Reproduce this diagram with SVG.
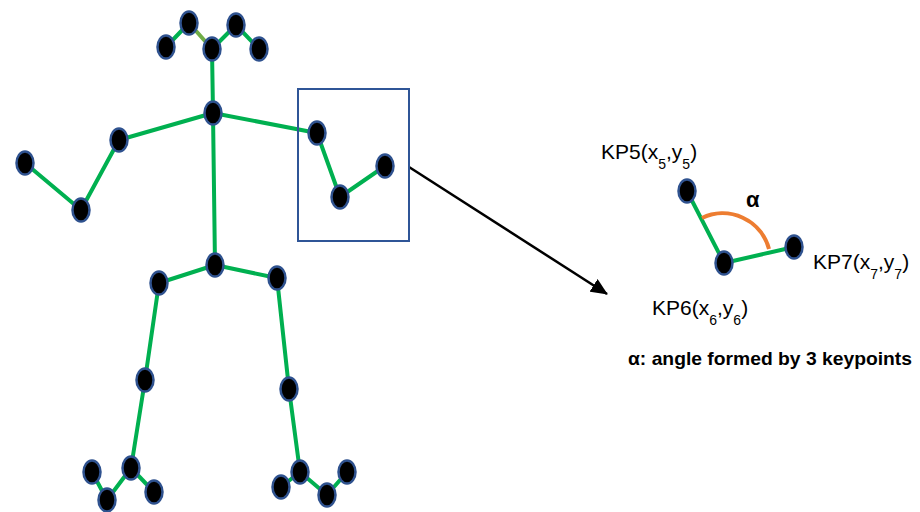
<svg xmlns="http://www.w3.org/2000/svg" width="920" height="512" viewBox="0 0 920 512">
<defs>
<style>
.kp{fill:#000;stroke:#2f528f;stroke-width:2.5}
.bone{stroke:#00b050;stroke-width:4;fill:none;stroke-linecap:round}
.t{font-family:"Liberation Sans",Arial,sans-serif;fill:#000}
</style>
<marker id="ah" markerWidth="17" markerHeight="15" refX="16" refY="7.5" orient="auto" markerUnits="userSpaceOnUse" viewBox="0 0 17 15">
<path d="M0,0 L17,7.5 L0,15 z" fill="#000"/>
</marker>
</defs>
<rect width="920" height="512" fill="#fff"/>
<g id="connectors">
<line class="bone" x1="166" y1="47" x2="189" y2="23"/>
<line class="bone" x1="189" y1="23" x2="212" y2="49" style="stroke:#70ad47"/>
<line class="bone" x1="212" y1="49" x2="236" y2="25"/>
<line class="bone" x1="236" y1="25" x2="259" y2="49"/>
<line class="bone" x1="212" y1="49" x2="213" y2="113"/>
<line class="bone" x1="213" y1="113" x2="119" y2="140"/>
<line class="bone" x1="119" y1="140" x2="81" y2="210"/>
<line class="bone" x1="81" y1="210" x2="25" y2="163"/>
<line class="bone" x1="213" y1="113" x2="317" y2="133"/>
<line class="bone" x1="317" y1="133" x2="340" y2="197"/>
<line class="bone" x1="340" y1="197" x2="385" y2="166"/>
<line class="bone" x1="213" y1="113" x2="215" y2="265"/>
<line class="bone" x1="215" y1="265" x2="159" y2="283"/>
<line class="bone" x1="215" y1="265" x2="277" y2="278"/>
<line class="bone" x1="159" y1="283" x2="145" y2="380"/>
<line class="bone" x1="145" y1="380" x2="131" y2="468"/>
<line class="bone" x1="277" y1="278" x2="289" y2="389"/>
<line class="bone" x1="289" y1="389" x2="300" y2="472"/>
<line class="bone" x1="92" y1="472" x2="107" y2="500"/>
<line class="bone" x1="107" y1="500" x2="131" y2="468"/>
<line class="bone" x1="131" y1="468" x2="154" y2="492"/>
<line class="bone" x1="281" y1="487" x2="300" y2="472"/>
<line class="bone" x1="300" y1="472" x2="327" y2="495"/>
<line class="bone" x1="327" y1="495" x2="347" y2="472"/>
<line x1="409" y1="167" x2="607" y2="294" stroke="#000" stroke-width="2.5" marker-end="url(#ah)"/>
<line class="bone" x1="687" y1="191" x2="724" y2="263"/>
<line class="bone" x1="724" y1="263" x2="794" y2="247"/>
<path d="M702,218 A48,48 0 0 1 769,249" fill="none" stroke="#ed7d31" stroke-width="4"/>
</g>
<g id="zoom-box"><rect x="298" y="89" width="111" height="152" fill="none" stroke="#2f5597" stroke-width="2"/></g>
<g id="kp-head-l2"><ellipse class="kp" cx="166" cy="47" rx="8.5" ry="11.5"/></g>
<g id="kp-head-l1"><ellipse class="kp" cx="189" cy="23" rx="8.5" ry="11.5"/></g>
<g id="kp-nose"><ellipse class="kp" cx="212" cy="49" rx="8.5" ry="11.5"/></g>
<g id="kp-head-r1"><ellipse class="kp" cx="236" cy="25" rx="8.5" ry="11.5"/></g>
<g id="kp-head-r2"><ellipse class="kp" cx="259" cy="49" rx="8.5" ry="11.5"/></g>
<g id="kp-neck"><ellipse class="kp" cx="213" cy="113" rx="8.5" ry="11.5"/></g>
<g id="kp-l-elbow"><ellipse class="kp" cx="119" cy="140" rx="8.5" ry="11.5"/></g>
<g id="kp-l-wrist"><ellipse class="kp" cx="81" cy="210" rx="8.5" ry="11.5"/></g>
<g id="kp-l-hand"><ellipse class="kp" cx="25" cy="163" rx="8.5" ry="11.5"/></g>
<g id="kp-r-shoulder"><ellipse class="kp" cx="317" cy="133" rx="8.5" ry="11.5"/></g>
<g id="kp-r-elbow"><ellipse class="kp" cx="340" cy="197" rx="8.5" ry="11.5"/></g>
<g id="kp-r-wrist"><ellipse class="kp" cx="385" cy="166" rx="8.5" ry="11.5"/></g>
<g id="kp-hip"><ellipse class="kp" cx="215" cy="265" rx="8.5" ry="11.5"/></g>
<g id="kp-l-hip"><ellipse class="kp" cx="159" cy="283" rx="8.5" ry="11.5"/></g>
<g id="kp-r-hip"><ellipse class="kp" cx="277" cy="278" rx="8.5" ry="11.5"/></g>
<g id="kp-l-knee"><ellipse class="kp" cx="145" cy="380" rx="8.5" ry="11.5"/></g>
<g id="kp-r-knee"><ellipse class="kp" cx="289" cy="389" rx="8.5" ry="11.5"/></g>
<g id="kp-l-ankle"><ellipse class="kp" cx="131" cy="468" rx="8.5" ry="11.5"/></g>
<g id="kp-r-ankle"><ellipse class="kp" cx="300" cy="472" rx="8.5" ry="11.5"/></g>
<g id="kp-l-toe1"><ellipse class="kp" cx="92" cy="472" rx="8.5" ry="11.5"/></g>
<g id="kp-l-toe2"><ellipse class="kp" cx="107" cy="500" rx="8.5" ry="11.5"/></g>
<g id="kp-l-heel"><ellipse class="kp" cx="154" cy="492" rx="8.5" ry="11.5"/></g>
<g id="kp-r-heel"><ellipse class="kp" cx="281" cy="487" rx="8.5" ry="11.5"/></g>
<g id="kp-r-toe1"><ellipse class="kp" cx="327" cy="495" rx="8.5" ry="11.5"/></g>
<g id="kp-r-toe2"><ellipse class="kp" cx="347" cy="472" rx="8.5" ry="11.5"/></g>
<g id="kp5"><ellipse class="kp" cx="687" cy="191" rx="8.5" ry="11.5"/>
<text class="t" x="601" y="159" font-size="21">KP5(x<tspan font-size="14" dy="10">5</tspan><tspan dy="-10">,y</tspan><tspan font-size="14" dy="10">5</tspan><tspan dy="-10">)</tspan></text></g>
<g id="kp6"><ellipse class="kp" cx="724" cy="263" rx="8.5" ry="11.5"/>
<text class="t" x="652" y="315" font-size="21">KP6(x<tspan font-size="14" dy="10">6</tspan><tspan dy="-10">,y</tspan><tspan font-size="14" dy="10">6</tspan><tspan dy="-10">)</tspan></text></g>
<g id="kp7"><ellipse class="kp" cx="794" cy="247" rx="8.5" ry="11.5"/>
<text class="t" x="813" y="269" font-size="21">KP7(x<tspan font-size="14" dy="10">7</tspan><tspan dy="-10">,y</tspan><tspan font-size="14" dy="10">7</tspan><tspan dy="-10">)</tspan></text></g>
<g id="alpha"><text class="t" x="746" y="207" font-size="22" font-weight="bold">α</text></g>
<g id="caption"><text class="t" x="628" y="365" font-size="19" font-weight="bold" textLength="284" lengthAdjust="spacingAndGlyphs">α: angle formed by 3 keypoints</text></g>
</svg>
